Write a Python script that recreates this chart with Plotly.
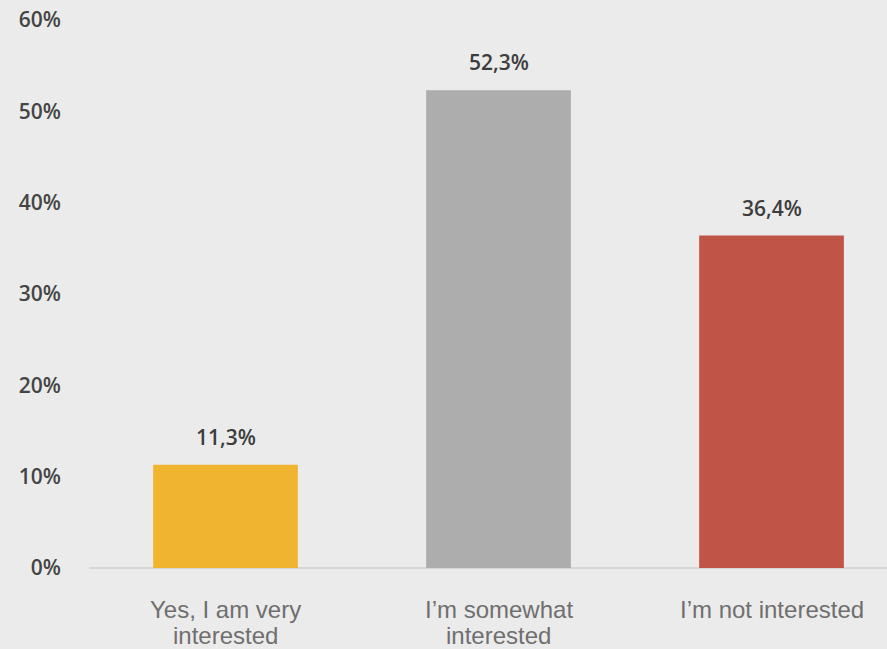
import plotly.graph_objects as go

categories = ["Yes, I am very<br>interested", "I’m somewhat<br>interested", "I’m not interested"]
values = [11.3, 52.3, 36.4]
value_labels = ["11,3%", "52,3%", "36,4%"]
colors = ["#F0B430", "#ADADAD", "#C05446"]
tick_vals = [0, 10, 20, 30, 40, 50, 60]
tick_text = ["0%", "10%", "20%", "30%", "40%", "50%", "60%"]

fig = go.Figure()
fig.add_trace(go.Bar(
    x=[0, 1, 2], y=values, marker=dict(color=colors, line=dict(width=0)),
    width=0.53, hoverinfo="skip",
))

for i, (v, t) in enumerate(zip(values, value_labels)):
    fig.add_annotation(x=i, y=v, text=t, showarrow=False, yanchor="bottom", yshift=12,
                       font=dict(family="Open Sans", size=21, color="#3d3d3d", weight=600))

# category labels, one annotation per line for tight line spacing
for i, cat in enumerate(categories):
    for j, line in enumerate(cat.split("<br>")):
        fig.add_annotation(x=i, y=0, yref="paper", text=line, showarrow=False,
                           yanchor="middle", yshift=-41 - 26 * j,
                           font=dict(family="Liberation Sans", size=24, color="#6f6f6f"))

fig.update_layout(
    width=887, height=649,
    paper_bgcolor="#EBEBEB", plot_bgcolor="#EBEBEB",
    margin=dict(l=89, r=0, t=20, b=81),
    showlegend=False,
    xaxis=dict(
        range=[-0.5, 2.423], tickmode="array", tickvals=[0, 1, 2],
        showgrid=False, zeroline=False, showline=False, ticks="", showticklabels=False,
    ),
    yaxis=dict(
        range=[0, 60], tickmode="array", tickvals=tick_vals, ticktext=tick_text,
        showgrid=False, zeroline=True, zerolinecolor="#D6D6D6", zerolinewidth=2,
        showline=False, ticks="",
        tickfont=dict(family="Open Sans", size=21, color="#454545", weight=600),
        ticklabelstandoff=27,
    ),
)

fig.write_html("out.html", config={"displayModeBar": False},
               post_script="document.body.style.margin='0';document.body.style.background='#EBEBEB';")
